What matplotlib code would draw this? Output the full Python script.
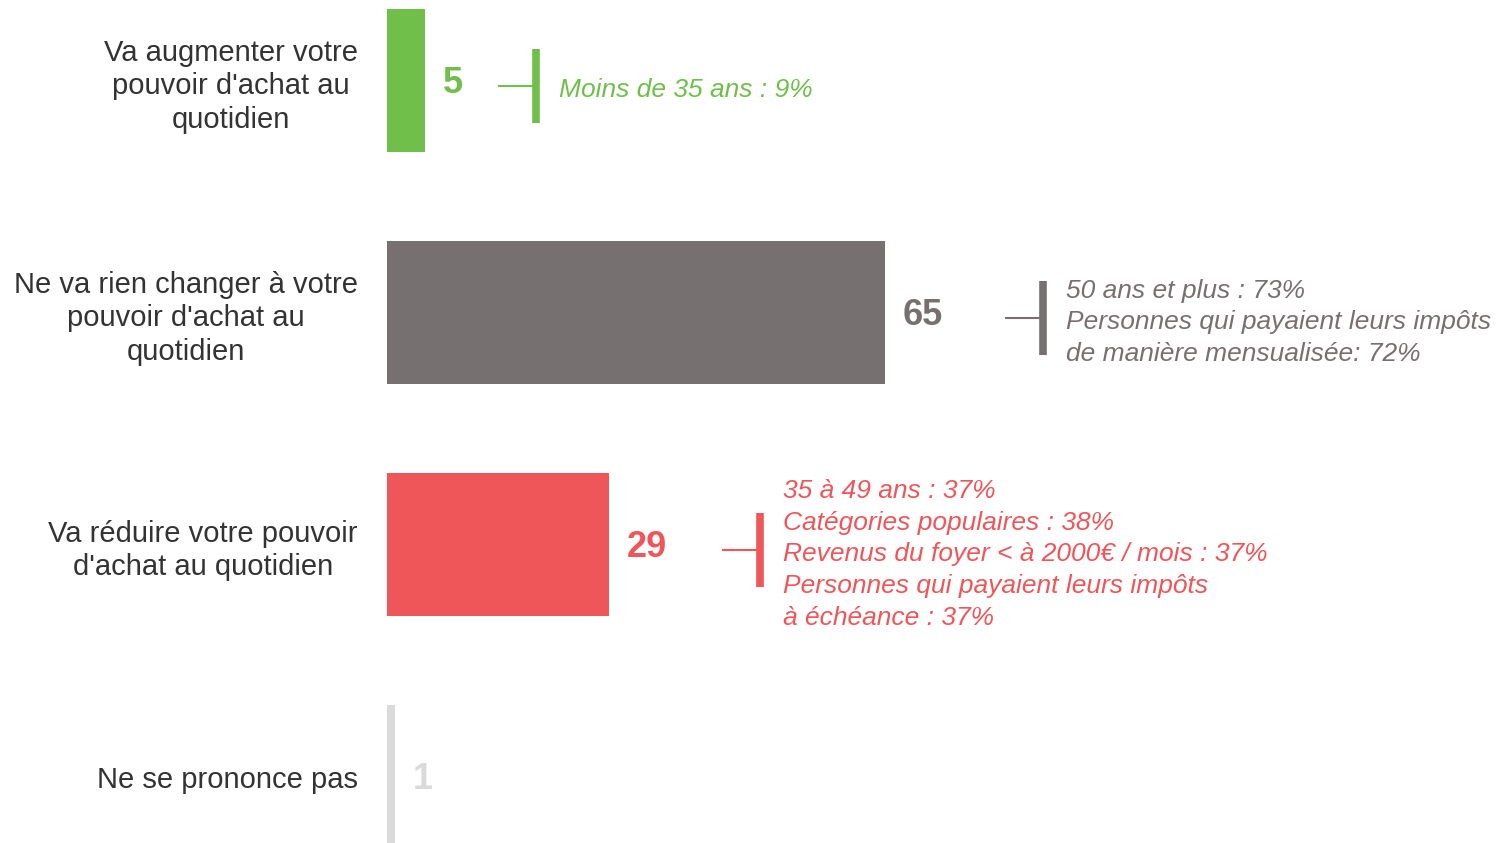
import matplotlib.pyplot as plt
from matplotlib.transforms import offset_copy

plt.rcParams['font.family'] = ['Liberation Sans', 'DejaVu Sans']

categories = ["Va augmenter votre\npouvoir d'achat au\nquotidien",
              "Ne va rien changer à votre\npouvoir d'achat au\nquotidien",
              "Va réduire votre pouvoir\nd'achat au quotidien",
              "Ne se prononce pas"]
values = [5, 65, 29, 1]
notes = ["Moins de 35 ans : 9%",
         "50 ans et plus : 73%\nPersonnes qui payaient leurs impôts\nde manière mensualisée: 72%",
         "35 à 49 ans : 37%\nCatégories populaires : 38%\nRevenus du foyer < à 2000€ / mois : 37%\n"
         "Personnes qui payaient leurs impôts\nà échéance : 37%",
         ""]

colors = ['#6fbf4a', '#767170', '#ef565a', '#dadada']
# distance (px) between bar end and the start of the bracket tick
bracket_gap = [74, 121, 114, 0]

W, H = 1499, 843
fig = plt.figure(figsize=(W / 100, H / 100), dpi=100)
x0 = 387
ax = fig.add_axes([x0 / W, 0, 1 - x0 / W, 1])

px_unit = 7.66  # px per percent
row = 232.0     # px between rows
ax.set_xlim(0, (W - x0) / px_unit)
ax.set_ylim((H - 80.5) / row, -80.5 / row)

ypos = list(range(len(categories)))
ax.barh(ypos, values, height=143 / row, color=colors)

ax.set_yticks(ypos, categories)
ax.tick_params(axis='y', length=0, pad=21, labelsize=21, labelcolor='#333333')
for t in ax.get_yticklabels():
    t.set_multialignment('center')
    t.set_linespacing(1.27)
ax.set_xticks([])
for s in ax.spines.values():
    s.set_visible(False)

for i, (v, c) in enumerate(zip(values, colors)):
    ax.annotate(str(v), xy=(v, i), xytext=(13, -2), textcoords='offset points',
                ha='left', va='center', fontsize=26, fontweight='bold', color=c)
    if not notes[i]:
        continue
    gap = bracket_gap[i]
    half = 37 / row
    tr = offset_copy(ax.transData, fig=fig, x=gap + 37, y=0, units='dots')
    ax.plot([v, v], [i - half + 0.025, i + half + 0.025], color=c, lw=5.5,
            solid_capstyle='butt', transform=tr)
    tr2 = offset_copy(ax.transData, fig=fig, x=gap, y=0, units='dots')
    ax.plot([v, v + 37 / px_unit], [i + 0.025, i + 0.025], color=c, lw=1.5,
            transform=tr2)
    ax.annotate(notes[i], xy=(v, i + 0.025), xytext=((gap + 37 + 23) * 0.72, -3),
                textcoords='offset points', ha='left', va='center',
                fontsize=19, style='italic', color=c, linespacing=1.4)

fig.savefig('out.png', dpi=100)
